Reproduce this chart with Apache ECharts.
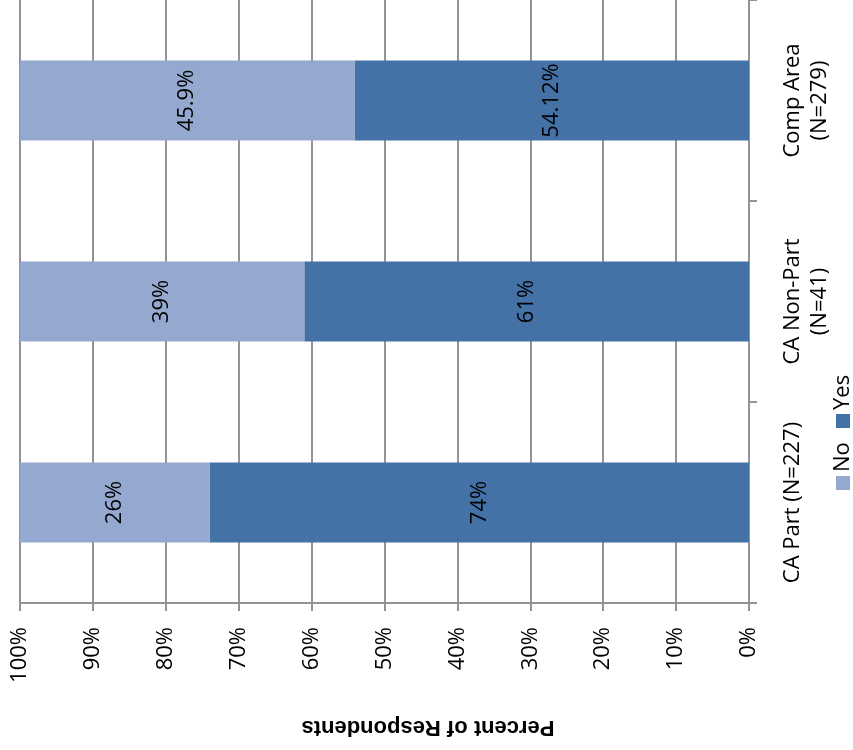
<!DOCTYPE html>
<html>
<head>
<meta charset="utf-8">
<script src="https://cdn.jsdelivr.net/npm/echarts@6/dist/echarts.min.js"></script>
<style>html,body{margin:0;padding:0;background:#fff}#c{width:853px;height:750px}</style>
</head>
<body>
<div id="c"></div>
<script>
var categories = ['CA Part (N=227)', 'CA Non-Part\n(N=41)', 'Comp Area\n(N=279)'];
var yesValues = [74, 61, 54.12];
var noValues = [26, 39, 45.9];
var yesLabels = ['74%', '61%', '54.12%'];
var noLabels = ['26%', '39%', '45.9%'];
var tickValues = [0, 10, 20, 30, 40, 50, 60, 70, 80, 90, 100];
var seriesNames = ['No', 'Yes'];
var axisTitle = 'Percent of Respondents';

var FONT = 'Open Sans';
var YES_COLOR = '#4472A7';
var NO_COLOR = '#95A9D0';
var GRID = '#939393';

var chart = echarts.init(document.getElementById('c'));
chart.setOption({
  animation: false,
  textStyle: {fontFamily: FONT},
  grid: {left: 20, right: 104, top: 0, bottom: 147},
  xAxis: {
    type: 'value', inverse: true, min: 0, max: 100, interval: 10,
    axisLine: {show: true, lineStyle: {color: GRID, width: 2}},
    axisTick: {show: true, length: 8, lineStyle: {color: GRID, width: 2}},
    splitLine: {show: true, lineStyle: {color: GRID, width: 2}},
    axisLabel: {rotate: 90, margin: 24, fontSize: 22, color: '#000', fontFamily: FONT,
      formatter: function (v) { return v + '%'; }}
  },
  yAxis: {
    type: 'category', position: 'right', data: categories,
    axisLine: {show: true, lineStyle: {color: GRID, width: 2}},
    axisTick: {show: true, length: 8, lineStyle: {color: GRID, width: 2}},
    axisLabel: {interval: 0, rotate: 90, margin: 30, fontSize: 22, lineHeight: 27, color: '#000', fontFamily: FONT}
  },
  series: [
    {
      name: seriesNames[1], type: 'bar', stack: 't', data: yesValues, barWidth: 80,
      itemStyle: {color: YES_COLOR},
      label: {show: true, position: 'inside', rotate: 90, fontSize: 22, color: '#000', fontFamily: FONT,
        formatter: function (p) { return yesLabels[p.dataIndex]; }}
    },
    {
      name: seriesNames[0], type: 'bar', stack: 't', data: noValues, barWidth: 80,
      itemStyle: {color: NO_COLOR},
      label: {show: true, position: 'inside', rotate: 90, fontSize: 22, color: '#000', fontFamily: FONT,
        formatter: function (p) { return noLabels[p.dataIndex]; }}
    }
  ],
  graphic: [
    {
      type: 'text', x: 428, y: 727, rotation: Math.PI,
      style: {text: axisTitle, font: 'bold 22px "Liberation Sans"', fill: '#000', align: 'center', verticalAlign: 'middle'}
    },
    {
      type: 'group', x: 843, y: 492, rotation: Math.PI / 2,
      children: [
        {type: 'rect', shape: {x: 2, y: -7, width: 14, height: 14}, style: {fill: NO_COLOR}},
        {type: 'text', x: 20, y: 0, style: {text: seriesNames[0], font: '22px "Open Sans"', fill: '#000', verticalAlign: 'middle'}},
        {type: 'rect', shape: {x: 64, y: -7, width: 14, height: 14}, style: {fill: YES_COLOR}},
        {type: 'text', x: 82, y: 0, style: {text: seriesNames[1], font: '22px "Open Sans"', fill: '#000', verticalAlign: 'middle'}}
      ]
    }
  ]
});
</script>
</body>
</html>
